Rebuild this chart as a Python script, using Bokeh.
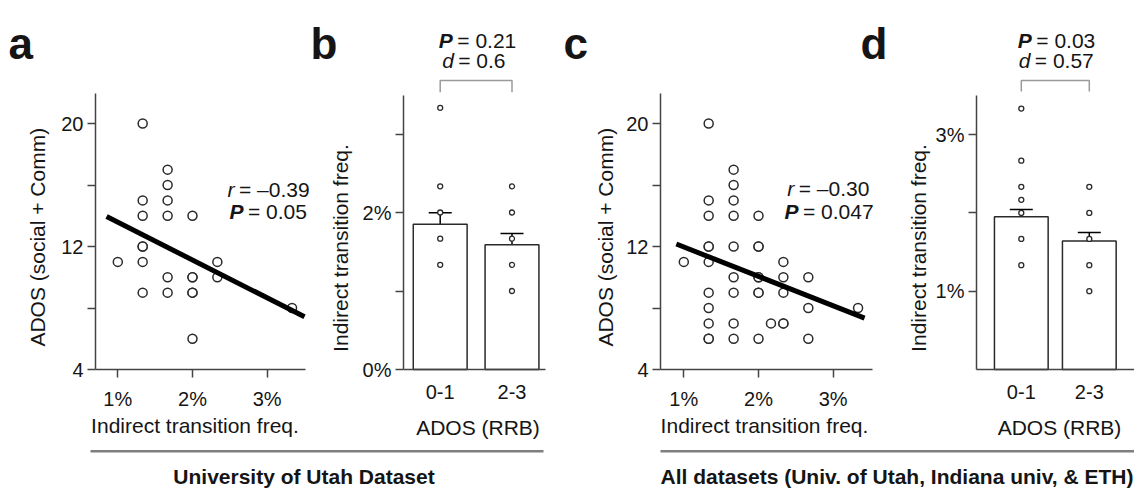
from math import pi
from bokeh.plotting import figure
from bokeh.layouts import row, column
from bokeh.models import (Range1d, FixedTicker, PrintfTickFormatter, CustomJSTickFormatter,
                          Label, Whisker, TeeHead, ColumnDataSource)
from bokeh.embed import file_html
from bokeh.resources import INLINE

# ---------------- data ----------------
# Panel a: University of Utah dataset
a_freq = [1.0,
          1.333, 1.333, 1.333, 1.333, 1.333, 1.333, 1.333,
          1.667, 1.667, 1.667, 1.667, 1.667, 1.667,
          2.0, 2.0, 2.0, 2.0, 2.0, 2.0,
          2.333, 2.333,
          3.333]
a_ados = [11,
          20, 15, 14, 12, 12, 11, 9,
          17, 16, 15, 14, 10, 9,
          14, 10, 10, 9, 9, 6,
          11, 10,
          8]
a_fit_freq = [0.85, 3.50]
a_fit_ados = [13.95, 7.43]
a_stats = ["–0.39", "0.05"]

# Panel b: University of Utah, by ADOS (RRB) group
groups = ["0-1", "2-3"]
b_mean = [1.85, 1.59]
b_sem = [0.146, 0.143]
b_pts_g1 = [3.333, 2.333, 2.0, 1.667, 1.333]
b_pts_g2 = [2.333, 2.0, 1.667, 1.333, 1.0]
b_stats = ["0.21", "0.6"]

# Panel c: all datasets
c_freq = [1.0,
          1.333, 1.333, 1.333, 1.333, 1.333, 1.333, 1.333, 1.333, 1.333, 1.333, 1.333,
          1.667, 1.667, 1.667, 1.667, 1.667, 1.667, 1.667, 1.667, 1.667,
          2.0, 2.0, 2.0, 2.0, 2.0, 2.0, 2.0, 2.0,
          2.167,
          2.333, 2.333, 2.333, 2.333, 2.333,
          2.667, 2.667, 2.667,
          3.333]
c_ados = [11,
          20, 15, 14, 12, 12, 11, 9, 8, 7, 6, 6,
          17, 16, 15, 14, 12, 10, 9, 7, 6,
          14, 12, 12, 10, 10, 9, 9, 6,
          7,
          11, 10, 9, 7, 7,
          10, 8, 6,
          8]
c_fit_freq = [0.90, 3.42]
c_fit_ados = [12.16, 7.34]
c_stats = ["–0.30", "0.047"]

# Panel d: all datasets, by ADOS (RRB) group
d_mean = [1.95, 1.64]
d_sem = [0.095, 0.11]
d_pts_g1 = [3.333, 2.667, 2.333, 2.167, 2.0, 1.667, 1.333]
d_pts_g2 = [2.333, 2.0, 1.667, 1.333, 1.0]
d_stats = ["0.03", "0.57"]

scatter_yticks = [4, 12, 20]
scatter_yminor = [8, 16]
freq_ticks = [1, 2, 3]
datasets = ["University of Utah Dataset",
            "All datasets (Univ. of Utah, Indiana univ, & ETH)"]

# ---------------- style / layout ----------------
FONT = "Liberation Sans"
INK = "#151515"
AXIS = "#444444"
TOP_H = 442
AX_Y = 369          # pixel row of the x axes


class Geo:
    """Pixel <-> data mapping of one panel (page pixels, origin top-left)."""

    def __init__(self, left, width, xref_px, xref_val, xs, yref_val, ys):
        self.left, self.width = left, width
        self.xp, self.xv, self.xs = xref_px, xref_val, xs
        self.yv, self.ys = yref_val, ys

    def x(self, px):
        return self.xv + (px - self.xp) / self.xs

    def y(self, py):
        return self.yv + (AX_Y - py) / self.ys


def base_fig(g, ax_left_px, ax_right_px, ax_top_px):
    p = figure(width=g.width, height=TOP_H,
               x_range=Range1d(g.x(g.left), g.x(g.left + g.width)),
               y_range=Range1d(g.y(TOP_H), g.y(0)),
               output_backend="svg", toolbar_location=None, min_border=0)
    p.outline_line_color = None
    p.xgrid.visible = False
    p.ygrid.visible = False
    p.background_fill_color = "white"
    p.border_fill_color = "white"
    for ax in (p.xaxis[0], p.yaxis[0]):
        ax.axis_line_color = AXIS
        ax.axis_line_width = 1.5
        ax.major_tick_line_color = AXIS
        ax.major_tick_line_width = 1.5
        ax.minor_tick_line_color = AXIS
        ax.minor_tick_line_width = 1.5
        ax.major_tick_in = 0
        ax.major_tick_out = 8
        ax.minor_tick_in = 0
        ax.minor_tick_out = 8
        ax.major_label_text_font = FONT
        ax.major_label_text_font_size = "20px"
        ax.major_label_text_color = INK
    p.yaxis[0].major_label_standoff = 4
    p.xaxis[0].major_label_standoff = 10
    p.yaxis[0].fixed_location = g.x(ax_left_px)
    p.xaxis[0].fixed_location = g.y(AX_Y)
    p.yaxis[0].bounds = (g.y(AX_Y), g.y(ax_top_px))
    p.xaxis[0].bounds = (g.x(ax_left_px), g.x(ax_right_px))
    return p


def add_label(p, x, y, text, size="21px", style="normal", align="left",
              baseline="middle", angle=0.0, x_offset=0):
    p.add_layout(Label(x=x, y=y, text=text, text_font=FONT, text_font_size=size,
                       text_font_style=style, text_align=align, text_baseline=baseline,
                       angle=angle, x_offset=x_offset, text_color=INK))


def add_letter(p, g, px, letter):
    add_label(p, g.x(px), g.y(43), letter, size="44px", style="bold", baseline="alphabetic")


def stat_pair(p, g, px, py, sym, sym_style, off, val):
    add_label(p, g.x(px), g.y(py), sym, style=sym_style)
    add_label(p, g.x(px), g.y(py), "= " + val, x_offset=off)


def scatter_panel(g, freq, ados, fit_x, fit_y, stats, axes_px,
                  ylab_px, xlab_px, r_px, p_px):
    p = base_fig(g, *axes_px)
    p.yaxis[0].ticker = FixedTicker(ticks=scatter_yticks, minor_ticks=scatter_yminor)
    p.xaxis[0].ticker = FixedTicker(ticks=freq_ticks)
    p.xaxis[0].formatter = PrintfTickFormatter(format="%d%%")
    p.scatter(freq, ados, marker="circle", size=9, fill_color="white",
              line_color="#2a2a2a", line_width=1.5)
    p.line(fit_x, fit_y, line_width=5, line_color="black")
    stat_pair(p, g, r_px[0], r_px[1], "r", "italic", 11.5, stats[0])
    stat_pair(p, g, p_px[0], p_px[1], "P", "bold italic", 18.5, stats[1])
    add_label(p, g.x(ylab_px[0]), g.y(ylab_px[1]), "ADOS (social + Comm)",
              align="center", angle=pi / 2)
    add_label(p, g.x(xlab_px), g.y(425), "Indirect transition freq.", align="center")
    return p


def bar_panel(g, means, sems, g1, g2, stats, axes_px, yticks, yminor, bar_w,
              ylab_px, xlab_px, p_px, d_px, br_px):
    p = base_fig(g, *axes_px)
    pos = [1, 2]
    p.yaxis[0].ticker = FixedTicker(ticks=yticks, minor_ticks=yminor)
    p.yaxis[0].formatter = PrintfTickFormatter(format="%d%%")
    p.xaxis[0].ticker = FixedTicker(ticks=pos)
    p.xaxis[0].formatter = CustomJSTickFormatter(args=dict(labels=groups),
                                                 code="return labels[Math.round(tick) - 1];")
    p.xaxis[0].major_tick_out = 0
    p.xaxis[0].major_label_standoff = 15
    p.vbar(x=pos, top=means, width=bar_w, bottom=0, fill_color="white",
           line_color="#2a2a2a", line_width=1.5)
    src = ColumnDataSource(dict(x=pos, hi=[m + s for m, s in zip(means, sems)],
                                lo=[m - s for m, s in zip(means, sems)]))
    p.add_layout(Whisker(base="x", upper="hi", lower="lo", source=src,
                         line_color="black", line_width=1.5,
                         upper_head=TeeHead(size=23, line_color="black", line_width=1.5),
                         lower_head=TeeHead(size=23, line_color="black", line_width=1.5)))
    xs = [pos[0]] * len(g1) + [pos[1]] * len(g2)
    p.scatter(xs, g1 + g2, marker="circle", size=5, fill_color="white",
              line_color="#2a2a2a", line_width=1.3)
    lo, hi = g.y(br_px[0]), g.y(br_px[1])
    p.line([pos[0], pos[0], pos[1], pos[1]], [lo, hi, hi, lo],
           line_color="#9a9a9a", line_width=1.5)
    stat_pair(p, g, p_px[0], p_px[1], "P", "bold italic", 18.5, stats[0])
    stat_pair(p, g, d_px[0], d_px[1], "d", "italic", 16, stats[1])
    add_label(p, g.x(ylab_px[0]), g.y(ylab_px[1]), "Indirect transition freq.",
              align="center", angle=pi / 2)
    add_label(p, g.x(xlab_px), g.y(427), "ADOS (RRB)", align="center")
    return p


ga = Geo(0, 309, 117.3, 1.0, 74.69, 4, 15.375)
gb = Geo(309, 251, 439.7, 1.0, 71.8, 0, 78.5)
gc = Geo(560, 330, 683.3, 1.0, 74.7, 4, 15.375)
gd = Geo(890, 244, 1020.8, 1.0, 68.0, 0, 78.3)

pa = scatter_panel(ga, a_freq, a_ados, a_fit_freq, a_fit_ados, a_stats,
                   (95, 305, 92.7), (36.7, 236.7), 194.5, (227, 189), (229, 210.7))
pb = bar_panel(gb, b_mean, b_sem, b_pts_g1, b_pts_g2, b_stats,
               (403, 545, 95), [0, 2], [1, 3], 0.75,
               (340, 247.5), 477.5, (438.3, 40), (441.7, 60), (91.7, 80))
pc = scatter_panel(gc, c_freq, c_ados, c_fit_freq, c_fit_ados, c_stats,
                   (660, 872, 92.7), (605, 236.7), 764, (786.7, 188.3), (784, 210.7))
pd_ = bar_panel(gd, d_mean, d_sem, d_pts_g1, d_pts_g2, d_stats,
                (976, 1134, 95), [1, 3], [2], 0.79,
                (918, 247.5), 1059, (1017.3, 40), (1018.3, 60), (91, 80))

add_letter(pa, ga, 8, "a")
add_letter(pb, gb, 310, "b")
add_letter(pc, gc, 563, "c")
add_letter(pc, gc, 860, "d")   # the "d" letter sits left of panel d's own canvas

BOT_H = 491 - TOP_H
bot = figure(width=1134, height=BOT_H, x_range=Range1d(0, 1134), y_range=Range1d(BOT_H, 0),
             output_backend="svg", toolbar_location=None, min_border=0,
             x_axis_type=None, y_axis_type=None)
bot.outline_line_color = None
bot.segment(x0=[90, 660], y0=[8.7, 8.7], x1=[543, 1134], y1=[8.7, 8.7],
            line_color="#7f7f7f", line_width=2.5)
bot.add_layout(Label(x=303.5, y=34, text=datasets[0], text_font=FONT, text_font_size="21px",
                     text_font_style="bold", text_align="center", text_baseline="middle",
                     text_color=INK))
bot.add_layout(Label(x=660, y=34, text=datasets[1], text_font=FONT, text_font_size="21px",
                     text_font_style="bold", text_align="left", text_baseline="middle",
                     text_color=INK))

layout = column(row(pa, pb, pc, pd_), bot)
open("out.html", "w").write(file_html(layout, INLINE))
